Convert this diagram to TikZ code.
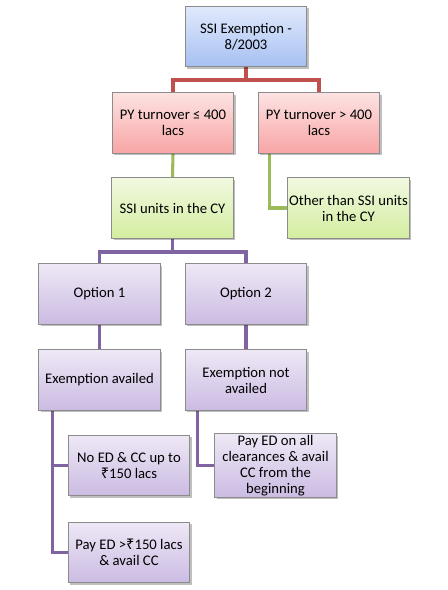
\documentclass[tikz,border=0pt]{standalone}
\usepackage{fontspec}
\setmainfont{Carlito}
\newfontfamily\symf{Noto Sans}
\usetikzlibrary{shadows,backgrounds}
\definecolor{bluetop}{HTML}{E0E9FB}
\definecolor{bluebot}{HTML}{A7C0F2}
\definecolor{redtop}{HTML}{FDE2E2}
\definecolor{redbot}{HTML}{F8A5A5}
\definecolor{greentop}{HTML}{F1F9E0}
\definecolor{greenbot}{HTML}{D3EDA0}
\definecolor{purptop}{HTML}{EEE8F6}
\definecolor{purpbot}{HTML}{CBBBE2}
\definecolor{boxborder}{HTML}{8C8C8C}
\definecolor{redline}{HTML}{C0504D}
\definecolor{greenline}{HTML}{9BBB59}
\definecolor{purpline}{HTML}{8064A2}
\tikzset{
  box/.style={draw=boxborder, line width=0.8pt, minimum width=91pt, minimum height=45.5pt,
    inner sep=1pt, align=center, font=\fontsize{11}{12}\selectfont,
    drop shadow={shadow xshift=1.5pt, shadow yshift=-1.5pt, opacity=0.25, fill=black}},
  bluebox/.style={box, top color=bluetop, bottom color=bluebot},
  redbox/.style={box, top color=redtop, bottom color=redbot},
  greenbox/.style={box, top color=greentop, bottom color=greenbot},
  purpbox/.style={box, top color=purptop, bottom color=purpbot},
  conn/.style={line width=2.3pt},
  rconn/.style={conn, draw=redline},
  gconn/.style={conn, draw=greenline},
  pconn/.style={conn, draw=purpline},
}
\begin{document}
\begin{tikzpicture}[x=0.75pt, y=-0.75pt]
\useasboundingbox (0,0) rectangle (447,590);
\node[bluebox] (root) at (246,36.5) {SSI Exemption -\\8/2003};
\node[redbox] (redL) at (173,123) {PY turnover ≤ 400\\lacs};
\node[redbox] (redR) at (319,123) {PY turnover > 400\\lacs};
\node[greenbox] (greenL) at (172.5,208) {SSI units in the CY};
\node[greenbox] (greenR) at (348.5,208) {Other than SSI units\\in the CY};
\node[purpbox] (opt1) at (99.5,294) {Option 1};
\node[purpbox] (opt2) at (246,294) {Option 2};
\node[purpbox] (exA) at (99.5,380) {Exemption availed};
\node[purpbox] (exN) at (246,380) {Exemption not\\availed};
\node[purpbox] (noed) at (129,465.5) {No ED \& CC up to\\{\symf ₹}150 lacs};
\node[purpbox] (payall) at (275.5,465.5) {Pay ED on all\\clearances \& avail\\CC from the\\beginning};
\node[purpbox] (payed) at (129,552.5) {Pay ED >{\symf ₹}150 lacs\\\& avail CC};
\coordinate (rj) at (246,80);
\coordinate (pj) at (172.5,252);
\begin{scope}[on background layer]
\fill[white] (0,0) rectangle (447,590);
\draw[rconn] (root.south) -- (rj) -| (redL.north);
\draw[rconn] (rj) -| (redR.north);
\draw[gconn] (redL.south) -- (greenL.north);
\draw[gconn] ([xshift=9pt]redR.south west) |- (greenR.west);
\draw[pconn] (greenL.south) -- (pj) -| (opt1.north);
\draw[pconn] (pj) -| (opt2.north);
\draw[pconn] (opt1.south) -- (exA.north);
\draw[pconn] (opt2.south) -- (exN.north);
\draw[pconn] ([xshift=10.5pt]exA.south west) |- (noed.west);
\draw[pconn] ([xshift=10.5pt]exA.south west) |- (payed.west);
\draw[pconn] ([xshift=9.75pt]exN.south west) |- (payall.west);
\end{scope}
\end{tikzpicture}
\end{document}
